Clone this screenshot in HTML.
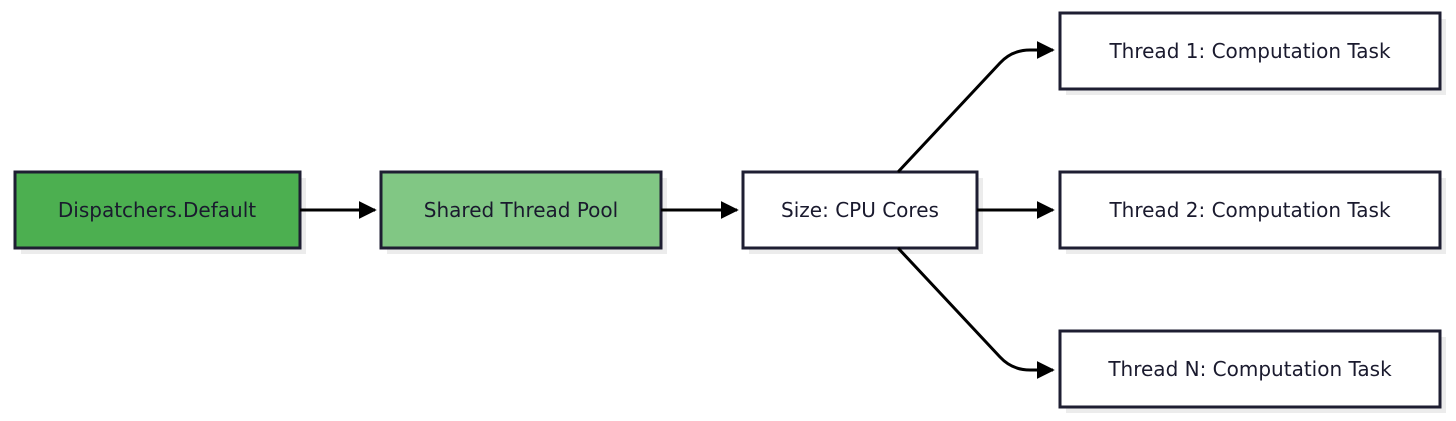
<!DOCTYPE html>
<html><head><style>
body{margin:0;background:#fff;}
svg{display:block;}
text{font-family:"DejaVu Sans","Liberation Sans",sans-serif;font-size:20px;fill:#1a1a2e;}
</style></head><body>
<svg width="1456" height="421" viewBox="0 0 1456 421">
<defs><marker id="a" markerWidth="10" markerHeight="10" refX="9" refY="5" orient="auto" markerUnits="userSpaceOnUse"><path d="M0,0 L10,5 L0,10 z" fill="#000"/></marker>
<marker id="b" viewBox="0 0 10 10" markerWidth="18" markerHeight="18" refX="9" refY="5" orient="auto" markerUnits="userSpaceOnUse"><path d="M0,0 L10,5 L0,10 z" fill="#000"/></marker></defs>
<g fill="#ececec">
<rect x="21" y="178" width="285" height="76"/>
<rect x="387" y="178" width="280" height="76"/>
<rect x="749" y="178" width="234" height="76"/>
<rect x="1066" y="19" width="380" height="76"/>
<rect x="1066" y="178" width="380" height="76"/>
<rect x="1066" y="337" width="380" height="76"/>
</g>
<g stroke="#1e1e32" stroke-width="3">
<rect x="15" y="172" width="285" height="76" fill="#4caf50"/>
<rect x="381" y="172" width="280" height="76" fill="#81c784"/>
<rect x="743" y="172" width="234" height="76" fill="#fff"/>
<rect x="1060" y="13" width="380" height="76" fill="#fff"/>
<rect x="1060" y="172" width="380" height="76" fill="#fff"/>
<rect x="1060" y="331" width="380" height="76" fill="#fff"/>
</g>
<g stroke="#000" stroke-width="3" fill="none" marker-end="url(#b)">
<path d="M300,210 H375"/>
<path d="M661,210 H737"/>
<path d="M977,210 H1053"/>
<path d="M898,172 L1000,63 Q1012,50 1030,50 H1053"/>
<path d="M898,248 L1000,357 Q1012,370 1030,370 H1053"/>
</g>
<g text-anchor="middle" dominant-baseline="central">
<text x="157" y="210">Dispatchers.Default</text>
<text x="521" y="210">Shared Thread Pool</text>
<text x="860" y="210">Size: CPU Cores</text>
<text x="1250" y="51">Thread 1: Computation Task</text>
<text x="1250" y="210">Thread 2: Computation Task</text>
<text x="1250" y="369">Thread N: Computation Task</text>
</g>
</svg>
</body></html>
